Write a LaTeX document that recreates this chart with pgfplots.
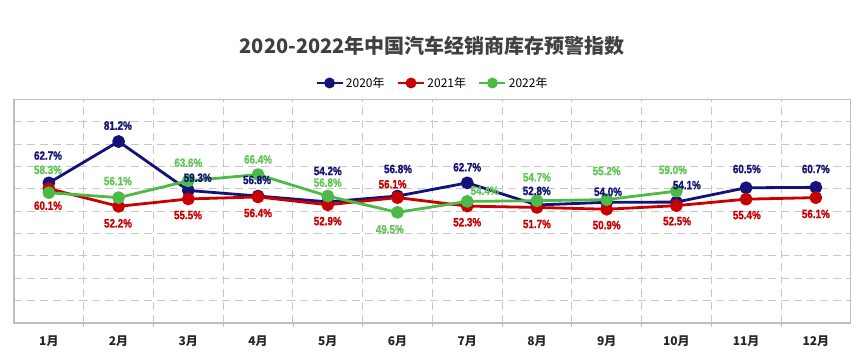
\documentclass[border=0pt]{standalone}
\usepackage{pgfplots}
\pgfplotsset{compat=1.18}
\usepackage{fontspec}
\setmainfont{Liberation Sans}
\newfontfamily\cjk{Noto Sans CJK SC}
\newfontfamily\narrow[FakeStretch=0.82,FakeBold=1.2]{Liberation Sans}
\definecolor{c20}{RGB}{18,18,120}
\definecolor{c21}{RGB}{200,0,0}
\definecolor{c22}{RGB}{76,186,70}
\definecolor{l22}{RGB}{96,196,86}
\definecolor{gridc}{RGB}{200,200,200}
\definecolor{axc}{RGB}{190,190,190}
\definecolor{titc}{RGB}{64,64,64}
\begin{document}
\begin{tikzpicture}
\path[use as bounding box] (0,0) rectangle (865pt,361pt);
\begin{axis}[
  at={(14pt,38pt)}, anchor=south west,
  width=836.7pt, height=223.5pt, scale only axis,
  xmin=0.5, xmax=12.5, ymin=0, ymax=100,
  xtick={1,...,12},
  xticklabels={1月,2月,3月,4月,5月,6月,7月,8月,9月,10月,11月,12月},
  minor xtick={1.5,2.5,...,11.5},
  ytick={10,20,...,90}, yticklabels={},
  ymajorgrids=true, xminorgrids=true,
  major grid style={gridc, dash pattern=on 8pt off 5pt, line width=0.9pt},
  minor grid style={gridc, dash pattern=on 8pt off 5pt, line width=0.9pt},
  major tick length=0pt, minor tick length=4pt, tick align=outside,
  xtick pos=lower, ytick style={draw=none},
  minor x tick style={draw=axc, line width=0.8pt},
  axis line style={axc, line width=1.2pt},
  clip=false,
  xticklabel style={font=\cjk\bfseries\fontsize{12}{12}\selectfont, text=black!85, yshift=-9pt},
  title={\cjk\bfseries 2020-2022年中国汽车经销商库存预警指数},
  title style={font=\fontsize{20}{20}\selectfont, text=titc, at={(0.5,1)}, anchor=center, yshift=47.5pt},
  legend style={at={(0.5,1)}, anchor=center, yshift=16.5pt, draw=none, fill=none,
    legend columns=3, font=\cjk\fontsize{12}{12}\selectfont,
    /tikz/every even column/.append style={column sep=10pt}},
  legend cell align=left,
  legend image code/.code={\draw[mark repeat=2,mark phase=2,mark size=4pt] plot coordinates {(0pt,0pt)(13pt,0pt)(26pt,0pt)};},
  every axis plot/.append style={line join=round},
]
\addplot[c20, line width=2.8pt, mark=*, mark size=5pt] coordinates {(1,62.7)(2,81.2)(3,59.3)(4,56.8)(5,54.2)(6,56.8)(7,62.7)(8,52.8)(9,54.0)(10,54.1)(11,60.5)(12,60.7)};
\addlegendentry{2020年}
\addplot[c21, line width=2.8pt, mark=*, mark size=5pt] coordinates {(1,60.1)(2,52.2)(3,55.5)(4,56.4)(5,52.9)(6,56.1)(7,52.3)(8,51.7)(9,50.9)(10,52.5)(11,55.4)(12,56.1)};
\addlegendentry{2021年}
\addplot[c22, line width=2.8pt, mark=*, mark size=5pt] coordinates {(1,58.3)(2,56.1)(3,63.6)(4,66.4)(5,56.8)(6,49.5)(7,54.4)(8,54.7)(9,55.2)(10,59.0)};
\addlegendentry{2022年}
% data labels
\addplot[forget plot, draw=none, mark=none, nodes near coords, point meta=explicit symbolic,
  every node near coord/.style={anchor=center, inner sep=0pt, text=c20, font=\narrow\bfseries\fontsize{12}{12}\selectfont}]
  coordinates {(0.988,74.9)[62.7\%] (1.99,88.3)[81.2\%] (3.135,65.0)[59.3\%] (3.985,64.0)[56.8\%]
   (5.0,68.0)[54.2\%] (6.008,68.9)[56.8\%] (7.0,69.7)[62.7\%] (7.997,59.1)[52.8\%]
   (9.02,58.7)[54.0\%] (10.15,61.7)[54.1\%] (11.01,68.9)[60.5\%] (12.0,68.9)[60.7\%]};
\addplot[forget plot, draw=none, mark=none, nodes near coords, point meta=explicit symbolic,
  every node near coord/.style={anchor=center, inner sep=0pt, text=c21, font=\narrow\bfseries\fontsize{12}{12}\selectfont}]
  coordinates {(0.988,52.5)[60.1\%] (1.992,44.6)[52.2\%] (2.996,48.3)[55.5\%] (3.999,49.2)[56.4\%]
   (5.0,45.6)[52.9\%] (5.93,62.1)[56.1\%] (7.0,45.1)[52.3\%] (8.0,44.3)[51.7\%]
   (9.0,43.8)[50.9\%] (10.01,45.6)[52.5\%] (11.01,48.3)[55.4\%] (12.0,48.8)[56.1\%]};
\addplot[forget plot, draw=none, mark=none, nodes near coords, point meta=explicit symbolic,
  every node near coord/.style={anchor=center, inner sep=0pt, text=l22, font=\narrow\bfseries\fontsize{12}{12}\selectfont}]
  coordinates {(0.988,68.5)[58.3\%] (1.99,63.5)[56.1\%] (3.0,71.7)[63.6\%] (4.0,73.2)[66.4\%]
   (5.0,62.8)[56.8\%] (5.89,41.9)[49.5\%] (7.25,59.2)[54.4\%] (8.0,65.2)[54.7\%]
   (9.0,68.0)[55.2\%] (9.95,68.5)[59.0\%]};
\end{axis}
\end{tikzpicture}
\end{document}
